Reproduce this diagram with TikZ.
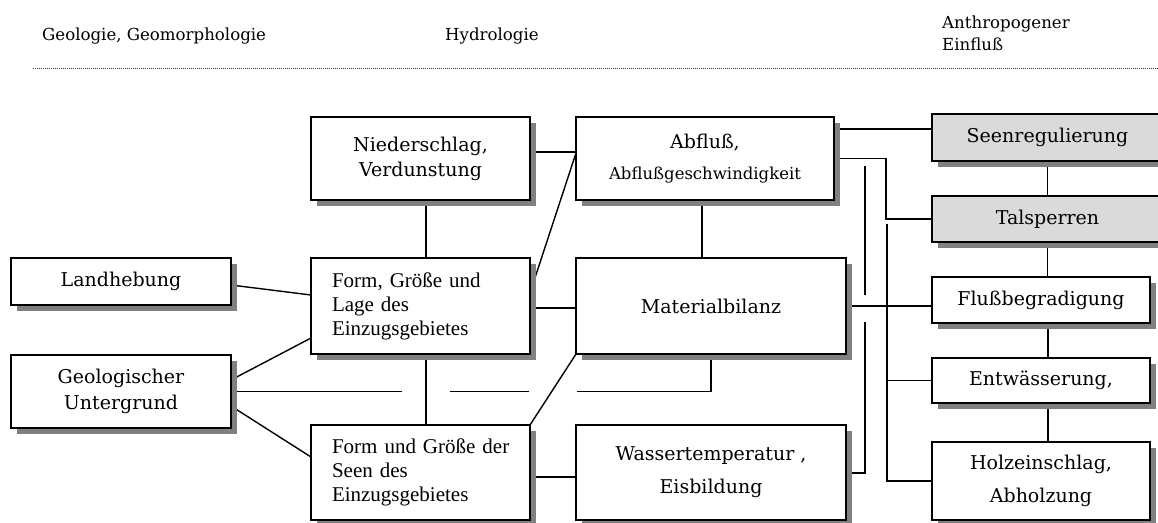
\documentclass[tikz,border=0pt]{standalone}
\usepackage{fontspec}
\setmainfont{DejaVu Serif}
\newfontfamily\tms{Liberation Serif}
\usetikzlibrary{shadows,backgrounds,calc}
\definecolor{shadowgray}{HTML}{808080}
\definecolor{boxgray}{HTML}{DADADA}
\begin{document}
\begin{tikzpicture}[x=1pt,y=-1pt,
  box/.style={draw, line width=1.8pt, fill=white, inner sep=0pt, outer sep=0pt, align=center,
    font=\fontsize{19}{25}\selectfont,
    drop shadow={shadow xshift=6pt, shadow yshift=-6pt, fill=shadowgray, opacity=1}},
  graybox/.style={box, fill=boxgray},
  timesbox/.style={box, align=left, font=\tms\fontsize{21}{24}\selectfont, inner xsep=21pt, text width=177pt},
  conn/.style={line width=1.4pt},
  head/.style={anchor=base west, inner sep=0pt, font=\fontsize{16.6}{22}\selectfont},
  sepline/.style={line width=0.9pt, dash pattern=on 1pt off 1pt, black!80}]
\useasboundingbox (0,0) rectangle (1158,522);

% headers
\node[head] (hgeo) at (42,40) {Geologie, Geomorphologie};
\node[head] (hhyd) at (445,40) {Hydrologie};
\node[head] (hant1) at (942,28) {Anthropogener};
\node[head] (hant2) at (942,50) {Einfluß};
\coordinate (d1) at (33,68);
\coordinate (d2) at (1158,68);
\draw[sepline] (d1) -- (d2);

% boxes
\node[box, minimum width=219pt, minimum height=83pt] (nied) at (420.5,158.5) {Niederschlag,\\Verdunstung};
\node[box, minimum width=258pt, minimum height=83pt] (abfl) at (705,158.5) {Abfluß,\\[6pt]{\fontsize{16.5}{20}\selectfont Abflußgeschwindigkeit}};
\node[box, minimum width=220pt, minimum height=47pt] (land) at (121,281.5) {Landhebung};
\node[box, minimum width=220pt, minimum height=73pt, font=\fontsize{19}{26}\selectfont] (geo) at (121,391.5) {Geologischer\\Untergrund};
\node[timesbox, minimum width=219pt, minimum height=96pt] (form) at (420.5,306) {\mbox{Form, Größe und}\\Lage des\\Einzugsgebietes};
\node[timesbox, minimum width=219pt, minimum height=95pt] (seen) at (420.5,472.5) {\mbox{Form und Größe der}\\Seen des\\Einzugsgebietes};
\node[box, minimum width=270pt, minimum height=96pt] (mat) at (711,306) {Materialbilanz};
\node[box, minimum width=270pt, minimum height=95pt, font=\fontsize{19}{33}\selectfont] (wass) at (711,472.5) {Wassertemperatur ,\\Eisbildung};
\node[graybox, minimum width=231pt, minimum height=47pt] (sreg) at (1047.5,137.5) {Seenregulierung};
\node[graybox, minimum width=231pt, minimum height=46pt] (tal) at (1047.5,219) {Talsperren};
\node[box, minimum width=218pt, minimum height=46pt] (flu) at (1041,300) {Flußbegradigung};
\node[box, minimum width=218pt, minimum height=45pt] (entw) at (1041,380.5) {Entwässerung,};
\node[box, minimum width=218pt, minimum height=78pt, font=\fontsize{19}{33}\selectfont] (holz) at (1041,481) {Holzeinschlag,\\Abholzung};

% helper coordinates
\coordinate (h1) at (402,391.5);
\coordinate (h2) at (450,391.5);
\coordinate (h3) at (529,391.5);
\coordinate (h4) at (577,391.5);
\coordinate (bx) at (886,0);
\coordinate (wx1) at (865,322);
\coordinate (wx2) at (865,295);
\coordinate (wx3) at (865,166);
\coordinate (bt) at (887,224);

\begin{pgfonlayer}{background}
\fill[white] (0,0) rectangle (1158,522);
% left side
\draw[conn] ([yshift=-3.5pt]land.east) -- ([yshift=11pt]form.west);
\draw[conn] ([yshift=11.5pt]geo.east) -- ([yshift=-32pt]form.west);
\draw[conn] ([yshift=-14.5pt]geo.east) -- ([yshift=15.5pt]seen.west);
\draw[conn] (geo.east) -- (h1);
\draw[conn] (h2) -- (h3);
\draw[conn] (h4) -| (mat.south);
% middle
\draw[conn] ([xshift=5.5pt]nied.south) -- ([xshift=5.5pt]form.north);
\draw[conn] ([xshift=5.5pt]form.south) -- ([xshift=5.5pt]seen.north);
\draw[conn] ([yshift=6.5pt]nied.east) -- ([yshift=6.5pt]abfl.west);
\draw[conn] ([yshift=13pt]form.east) -- ([yshift=5.5pt]abfl.west);
\draw[conn] ([yshift=-2pt]form.east) -- ([yshift=-2pt]mat.west);
\draw[conn] ([yshift=-4.5pt]seen.east) -- ([yshift=-4.5pt]wass.west);
\draw[conn] (mat.south west) -- (seen.north east);
\draw[conn] ([xshift=-3pt]abfl.south) -- ([xshift=-3pt]abfl.south |- mat.north);
% right side
\draw[conn] ([yshift=29.5pt]abfl.east) -- ([yshift=29.5pt]abfl.east -| sreg.west);
\draw[conn] (abfl.east) -- (abfl.east -| bx) |- (tal.west);
\draw[conn] ([yshift=-0.5pt]wass.east) -| (wx1);
\draw[conn] (wx2) -- (wx3);
\draw[conn] (mat.east) -- (mat.east -| flu.west);
\draw[conn] (bt) |- (holz.west);
\draw[conn] (entw.west) -- (entw.west -| bt);
\draw[conn] (sreg.south) -- (sreg.south |- tal.north);
\draw[conn] (tal.south) -- (tal.south |- flu.north);
\draw[conn] ([xshift=7pt]flu.south) -- ([xshift=7pt]flu.south |- entw.north);
\draw[conn] ([xshift=7pt]entw.south) -- ([xshift=7pt]entw.south |- holz.north);
\end{pgfonlayer}
\end{tikzpicture}
\end{document}
